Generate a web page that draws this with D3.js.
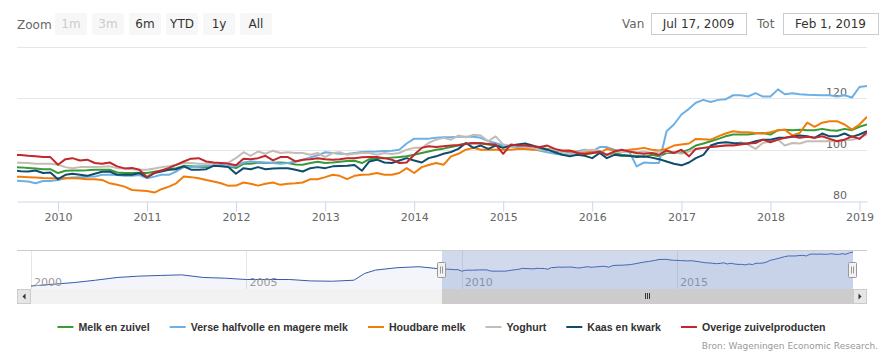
<!DOCTYPE html>
<html>
<head>
<meta charset="utf-8">
<script src="https://cdn.jsdelivr.net/npm/d3@7"></script>
<style>
  body { margin: 0; background: #fff; }
  svg { display: block; font-family: "DejaVu Sans", Verdana, sans-serif; }
</style>
</head>
<body>
<div id="grafiek"></div>
<script>
// maandcijfers, index, vanaf juli 2009 t/m februari 2019
const melkZuivel = [93.2, 93.1, 92.9, 92.7, 92.4, 92.4,
  90.9, 91.8, 91.9, 91.9, 92.0, 92.2, 92.2, 92.2, 91.1, 90.9, 90.9, 91.0,
  90.9, 91.4, 91.9, 92.4, 92.8, 93.7, 93.5, 93.3, 93.2, 93.7, 93.6, 93.5,
  92.8, 94.5, 94.5, 95.0, 94.8, 94.9, 95.0, 94.8, 94.2, 94.1, 94.8, 95.3,
  94.8, 95.0, 95.3, 95.6, 95.7, 94.8, 96.3, 96.7, 96.7, 96.9, 97.1, 97.4,
  98.0, 98.7, 99.3, 100.0, 100.4, 101.0, 101.6, 102.4, 102.5, 102.6, 102.0, 101.6,
  101.6, 101.3, 101.2, 101.0, 101.2, 100.8, 100.3, 99.7, 99.2, 99.0, 98.7, 98.3,
  98.6, 99.2, 98.0, 98.7, 98.0, 97.6, 97.6, 97.1, 98.0, 97.4, 98.7, 98.7,
  99.0, 100.0, 101.6, 102.4, 103.3, 104.2, 105.2, 105.9, 105.9, 105.9, 106.3, 106.5,
  105.9, 107.6, 107.8, 107.6, 107.8, 107.6, 107.6, 108.1, 107.6, 107.4, 108.1, 107.6,
  108.9, 109.8];
const verseMelk = [88.0, 87.8, 87.6, 86.9, 87.8, 87.8,
  88.2, 88.9, 89.2, 89.3, 89.4, 89.5, 90.2, 90.2, 90.1, 89.8, 89.8, 90.1,
  88.9, 89.5, 90.2, 90.2, 91.5, 93.2, 93.2, 93.5, 93.7, 93.7, 94.1, 93.5,
  93.5, 95.0, 95.4, 95.2, 95.0, 94.8, 94.5, 94.8, 95.4, 96.0, 97.0, 97.8,
  99.0, 98.7, 98.4, 98.3, 98.7, 99.1, 99.2, 99.3, 99.5, 99.6, 100.0, 102.4,
  104.3, 104.3, 104.3, 104.6, 104.8, 104.8, 105.0, 105.0, 105.0, 104.6, 103.3, 102.6,
  101.6, 101.3, 101.0, 100.7, 100.3, 99.6, 99.0, 98.4, 98.0, 98.7, 99.3, 100.0,
  99.3, 101.0, 101.0, 100.0, 99.3, 99.3, 93.5, 95.0, 94.8, 94.8, 107.2, 109.8,
  113.7, 115.9, 118.3, 119.4, 118.6, 119.4, 119.6, 121.2, 121.2, 120.7, 122.0, 120.7,
  120.7, 123.5, 121.6, 122.0, 121.6, 121.4, 121.3, 121.2, 121.2, 120.7, 121.2, 120.3,
  124.4, 124.8];
const houdbareMelk = [89.5, 89.4, 89.3, 89.2, 89.0, 88.9,
  88.9, 88.9, 88.9, 88.8, 88.5, 88.5, 88.2, 86.9, 86.3, 85.6, 84.3, 84.1,
  83.9, 83.3, 84.6, 85.6, 86.9, 89.5, 89.3, 88.9, 88.2, 87.6, 86.9, 85.9,
  86.0, 87.2, 86.7, 86.0, 86.7, 87.2, 86.3, 86.7, 86.9, 87.2, 88.5, 88.5,
  89.3, 90.2, 89.8, 88.5, 89.8, 90.2, 90.3, 90.9, 90.2, 90.2, 90.9, 92.8,
  90.9, 93.2, 94.0, 94.8, 94.1, 97.4, 98.4, 100.0, 100.7, 100.0, 100.0, 100.0,
  100.0, 100.0, 100.3, 100.3, 100.0, 100.0, 100.1, 100.0, 99.7, 99.5, 99.2, 99.0,
  99.0, 98.7, 100.3, 99.7, 99.3, 100.0, 100.3, 100.7, 100.0, 99.7, 100.3, 101.6,
  102.0, 102.4, 104.2, 104.1, 103.9, 105.2, 106.3, 107.2, 106.8, 106.8, 106.5, 106.3,
  106.8, 107.6, 107.8, 105.5, 106.5, 110.5, 108.9, 110.5, 111.1, 111.1, 109.8, 107.8,
  109.8, 112.8];
const yoghurt = [95.0, 94.9, 94.8, 94.5, 94.5, 94.5,
  94.1, 93.2, 92.8, 93.2, 93.2, 93.2, 93.3, 93.5, 92.8, 92.7, 92.4, 92.2,
  92.2, 92.7, 93.2, 93.5, 94.1, 94.8, 94.8, 94.5, 94.5, 94.5, 94.8, 95.0,
  96.7, 99.0, 97.6, 99.3, 98.4, 99.6, 98.7, 99.0, 98.7, 98.7, 98.0, 98.7,
  97.1, 98.7, 99.0, 98.0, 98.4, 98.7, 98.7, 98.0, 98.7, 98.3, 98.7, 100.0,
  100.7, 100.7, 102.6, 103.9, 104.6, 103.9, 105.5, 104.8, 105.8, 105.5, 103.3, 105.2,
  102.0, 101.6, 101.3, 101.0, 100.7, 100.0, 100.0, 100.0, 99.1, 98.0, 98.7, 99.7,
  100.0, 99.5, 98.0, 99.0, 99.3, 99.3, 99.0, 99.3, 98.7, 99.3, 99.0, 99.0,
  98.4, 99.3, 100.3, 100.7, 101.0, 101.3, 101.6, 102.0, 102.9, 102.0, 100.3, 102.6,
  103.3, 103.9, 101.6, 102.6, 102.4, 103.3, 103.3, 103.3, 103.3, 103.5, 103.9, 103.9,
  104.6, 105.9];
const kaasKwark = [91.9, 91.6, 91.5, 91.9, 90.9, 91.1,
  88.5, 90.2, 90.6, 90.2, 89.8, 90.6, 91.4, 91.5, 90.2, 90.2, 90.2, 90.9,
  89.2, 90.9, 91.5, 92.2, 92.4, 93.5, 92.2, 92.2, 92.4, 93.7, 93.5, 93.2,
  90.6, 92.8, 92.4, 93.2, 92.4, 92.7, 92.8, 92.8, 92.2, 91.5, 92.8, 93.2,
  92.8, 93.5, 93.6, 93.7, 94.0, 91.8, 95.4, 96.1, 95.0, 94.8, 95.8, 96.7,
  95.8, 95.0, 96.7, 97.4, 98.4, 99.1, 100.3, 102.6, 100.7, 101.6, 100.3, 101.6,
  100.7, 101.6, 102.0, 102.4, 101.6, 100.7, 100.0, 99.0, 98.0, 97.4, 98.0, 97.6,
  96.7, 98.7, 96.7, 98.0, 97.6, 97.6, 97.1, 97.4, 96.9, 96.3, 95.4, 94.5,
  93.9, 95.0, 96.7, 98.0, 101.6, 102.6, 102.9, 102.6, 102.4, 102.4, 103.3, 103.9,
  103.9, 104.6, 104.6, 105.0, 105.5, 105.2, 104.6, 106.3, 105.2, 105.2, 106.3, 105.0,
  105.9, 107.2];
const overige = [98.0, 97.9, 97.6, 97.4, 97.1, 97.1,
  94.1, 96.3, 96.7, 95.8, 96.1, 94.8, 94.5, 95.0, 93.5, 92.7, 92.9, 92.2,
  89.3, 91.1, 91.9, 92.9, 94.1, 95.4, 96.5, 96.7, 95.4, 95.0, 94.8, 94.5,
  93.9, 96.5, 96.3, 96.7, 97.6, 95.8, 97.1, 97.1, 95.4, 96.1, 96.3, 96.7,
  96.3, 96.1, 96.3, 96.7, 96.7, 97.0, 97.1, 97.1, 96.7, 96.1, 94.8, 95.0,
  98.0, 100.7, 101.3, 101.0, 101.3, 101.6, 101.8, 102.2, 102.6, 102.4, 102.2, 102.0,
  98.4, 102.0, 101.6, 101.6, 101.3, 101.0, 101.6, 100.3, 99.6, 99.7, 98.7, 98.3,
  98.7, 99.3, 98.0, 99.3, 100.0, 99.3, 98.7, 98.4, 98.7, 98.0, 99.7, 98.7,
  100.0, 97.4, 100.3, 100.7, 101.0, 101.3, 101.6, 101.6, 102.0, 102.4, 102.6, 103.9,
  102.9, 103.9, 104.6, 105.2, 104.6, 105.0, 104.6, 105.2, 104.2, 103.3, 103.9, 105.2,
  104.2, 106.8];

const reeksNamen = ["Melk en zuivel", "Verse halfvolle en magere melk", "Houdbare melk",
  "Yoghurt", "Kaas en kwark", "Overige zuivelproducten"];
const reeksKleuren = ["#3a9a35", "#6cb0e6", "#f07d0a", "#c4bdb6", "#0f4c6b", "#c1272d"];
const reeksen = [melkZuivel, verseMelk, houdbareMelk, yoghurt, kaasKwark, overige];

// navigator: oudere halfjaarcijfers van melk en zuivel (2000 - 2009)
const navOudDatums = ["2000-01", "2000-07", "2001-01", "2001-07", "2002-01", "2002-07",
  "2003-01", "2003-07", "2004-01", "2004-07", "2005-01", "2005-07", "2006-01", "2006-07",
  "2007-01", "2007-07", "2007-10", "2008-01", "2008-07", "2009-01"];
const navOudWaarden = [76.3, 78.0, 79.7, 82.0, 84.7, 86.0, 86.7, 87.3, 84.7, 84.0,
  82.7, 82.7, 82.7, 81.3, 81.0, 82.0, 88.7, 92.0, 94.3, 95.3];

const yTicks = [80, 100, 120, 140];
const yLabels = [80, 100, 120];
const xJaren = [2010, 2011, 2012, 2013, 2014, 2015, 2016, 2017, 2018, 2019];
const navJaren = [2000, 2005, 2010, 2015];
const zoomKnoppen = ["1m", "3m", "6m", "YTD", "1y", "All"];
const uitgeschakeld = ["1m", "3m"];
const vanTekst = "Jul 17, 2009", totTekst = "Feb 1, 2019";
const bron = "Bron: Wageningen Economic Research.";

const breedte = 883, hoogte = 359;
const links = 17, rechts = 867, boven = 47, onder = 201;
const vanDatum = new Date(2009, 6, 17), totDatum = new Date(2019, 1, 1);

const maanden = melkZuivel.map((_, i) => new Date(2009, 6 + i, 1));
const parse = d3.timeParse("%Y-%m");

const $svg = d3.select("#grafiek").append("svg")
  .attr("width", breedte)
  .attr("height", hoogte);

// ZOOM KNOPPEN
$svg.append("text")
  .attr("x", 17).attr("y", 25).attr("dy", "0.35em")
  .attr("fill", "#666").attr("font-size", 12)
  .text("Zoom");

zoomKnoppen.forEach((k, i) => {
  const g = $svg.append("g").attr("transform", `translate(${55 + i * 37}, 13)`);
  g.append("rect")
    .attr("width", 32).attr("height", 22).attr("rx", 2)
    .attr("fill", "#f7f7f7");
  g.append("text")
    .attr("x", 16).attr("y", 11).attr("dy", "0.35em")
    .attr("text-anchor", "middle")
    .attr("font-size", 12)
    .attr("fill", uitgeschakeld.includes(k) ? "#cccccc" : "#333")
    .text(k);
});

// DATUM VAKJES
const datumVak = (label, lx, bx, bw, tekst) => {
  $svg.append("text")
    .attr("x", lx).attr("y", 24).attr("dy", "0.35em")
    .attr("fill", "#666").attr("font-size", 12)
    .text(label);
  $svg.append("rect")
    .attr("x", bx + 0.5).attr("y", 13.5).attr("width", bw).attr("height", 21)
    .attr("fill", "#fff").attr("stroke", "#cccccc");
  $svg.append("text")
    .attr("x", bx + bw / 2).attr("y", 24).attr("dy", "0.35em")
    .attr("text-anchor", "middle")
    .attr("fill", "#333").attr("font-size", 12)
    .text(tekst);
};
datumVak("Van", 622, 651, 95, vanTekst);
datumVak("Tot", 757, 783, 95, totTekst);

// SCHALEN
const x = d3.scaleTime().domain([vanDatum, totDatum]).range([links, rechts]);
const y = d3.scaleLinear().domain([80, 140]).range([onder, boven]);

// rasterlijnen
$svg.append("g")
  .selectAll("line")
  .data(yTicks.filter(t => t !== 80))
  .join("line")
  .attr("x1", links).attr("x2", rechts)
  .attr("y1", d => Math.round(y(d)) + 0.5).attr("y2", d => Math.round(y(d)) + 0.5)
  .attr("stroke", "#e6e6e6");

// x as
const xAs = $svg.append("g")
  .attr("transform", `translate(0, ${onder + 0.5})`)
  .call(d3.axisBottom(x)
    .tickValues(xJaren.map(j => new Date(j, 0, 1)))
    .tickFormat(d3.timeFormat("%Y"))
    .tickSize(10)
    .tickSizeOuter(0)
    .tickPadding(2));
xAs.select(".domain").attr("stroke", "#ccd6eb");
xAs.selectAll(".tick line").attr("stroke", "#ccd6eb");
xAs.selectAll(".tick text").attr("fill", "#666").attr("font-size", 11)
  .attr("font-family", "DejaVu Sans, sans-serif");

// y as (labels binnen het plotvlak)
const yAs = $svg.append("g")
  .attr("transform", `translate(849, 0)`)
  .call(d3.axisLeft(y).tickValues(yLabels).tickSize(0).tickPadding(2));
yAs.select(".domain").remove();
yAs.selectAll(".tick text").attr("fill", "#666").attr("font-size", 11)
  .attr("dy", "-0.22em")
  .attr("font-family", "DejaVu Sans, sans-serif");

// LIJNEN
$svg.append("clipPath").attr("id", "plotClip")
  .append("rect").attr("x", links).attr("y", boven - 5)
  .attr("width", rechts - links).attr("height", onder - boven + 5);

const lijn = d3.line()
  .x((d, i) => x(maanden[i]))
  .y(d => y(d));

$svg.append("g")
  .attr("clip-path", "url(#plotClip)")
  .selectAll("path")
  .data(reeksen)
  .join("path")
  .attr("d", lijn)
  .attr("fill", "none")
  .attr("stroke", (d, i) => reeksKleuren[i])
  .attr("stroke-width", 2)
  .attr("stroke-linejoin", "round");

// NAVIGATOR
const navBoven = 250, navOnder = 289;
const navDatums = navOudDatums.map(parse).concat(maanden);
const navWaarden = navOudWaarden.concat(melkZuivel);
const navX = d3.scaleTime()
  .domain([new Date(2000, 0, 1), maanden[maanden.length - 1]])
  .range([31, 853]);
const navY = d3.scaleLinear()
  .domain(d3.extent(navWaarden))
  .range([286, 252]);

const nav = $svg.append("g");
nav.selectAll("line.raster")
  .data(navJaren)
  .join("line")
  .attr("class", "raster")
  .attr("x1", d => Math.round(navX(new Date(d, 0, 1))) + 0.5)
  .attr("x2", d => Math.round(navX(new Date(d, 0, 1))) + 0.5)
  .attr("y1", navBoven).attr("y2", navOnder)
  .attr("stroke", "#e6e6e6");

nav.append("path")
  .attr("d", d3.area()
    .x((d, i) => navX(navDatums[i]))
    .y0(navOnder)
    .y1(d => navY(d))(navWaarden))
  .attr("fill", "rgba(51,92,173,0.06)");
nav.append("path")
  .attr("d", d3.line()
    .x((d, i) => navX(navDatums[i]))
    .y(d => navY(d))(navWaarden))
  .attr("fill", "none")
  .attr("stroke", "#335cad")
  .attr("stroke-width", 1);

nav.selectAll("text")
  .data(navJaren)
  .join("text")
  .attr("x", d => navX(new Date(d, 0, 1)) + 3)
  .attr("y", 286)
  .attr("fill", "#999")
  .attr("font-size", 11)
  .text(d => d);

const hL = navX(vanDatum), hR = navX(totDatum);
nav.append("rect")
  .attr("x", hL).attr("y", navBoven)
  .attr("width", hR - hL).attr("height", navOnder - navBoven)
  .attr("fill", "rgba(102,133,194,0.3)");
nav.append("line")
  .attr("x1", links).attr("x2", rechts)
  .attr("y1", navBoven + 0.5).attr("y2", navBoven + 0.5)
  .attr("stroke", "#cccccc");

// handvatten
[hL, hR].forEach(hx => {
  const g = nav.append("g").attr("transform", `translate(${Math.round(hx) - 4.5}, 262.5)`);
  g.append("rect")
    .attr("width", 8).attr("height", 15).attr("rx", 1)
    .attr("fill", "#f2f2f2").attr("stroke", "#999");
  [3, 5].forEach(lx => g.append("line")
    .attr("x1", lx).attr("x2", lx).attr("y1", 4).attr("y2", 11)
    .attr("stroke", "#999"));
});

// SCROLLBAR
const sbY = 289, sbH = 15;
$svg.append("rect")
  .attr("x", links).attr("y", sbY).attr("width", rechts - links).attr("height", sbH)
  .attr("fill", "#f2f2f2");
$svg.append("rect")
  .attr("x", hL).attr("y", sbY).attr("width", hR - hL).attr("height", sbH)
  .attr("fill", "#cccccc");
[-2, 0, 2].forEach(o => $svg.append("line")
  .attr("x1", Math.round((hL + hR) / 2) + o + 0.5).attr("x2", Math.round((hL + hR) / 2) + o + 0.5)
  .attr("y1", sbY + 4).attr("y2", sbY + 10)
  .attr("stroke", "#333"));
[[links, -1], [rechts - 14, 1]].forEach(([bx, dir]) => {
  $svg.append("rect")
    .attr("x", bx + 0.5).attr("y", sbY + 0.5).attr("width", 13).attr("height", sbH - 1)
    .attr("fill", "#e6e6e6").attr("stroke", "#cccccc");
  const cx = bx + 7, cy = sbY + 7.5;
  $svg.append("path")
    .attr("d", `M${cx - 1.5 * dir},${cy - 3} L${cx + 1.5 * dir},${cy} L${cx - 1.5 * dir},${cy + 3} Z`)
    .attr("fill", "#333");
});

// LEGENDA
const legenda = $svg.append("g").attr("transform", "translate(0, 327)");
const items = reeksNamen.map((naam, i) => {
  const g = legenda.append("g");
  g.append("line")
    .attr("x1", 0).attr("x2", 16)
    .attr("stroke", reeksKleuren[i]).attr("stroke-width", 2);
  const t = g.append("text")
    .attr("x", 21).attr("dy", "0.35em")
    .attr("font-family", "Liberation Sans, Arial, sans-serif")
    .attr("font-size", 10.6).attr("font-weight", "bold")
    .attr("fill", "#333")
    .text(naam);
  return { g, w: 21 + t.node().getComputedTextLength() };
});
const tussen = 20;
const totaal = d3.sum(items, d => d.w) + tussen * (items.length - 1);
let lx = (breedte - totaal) / 2;
items.forEach(d => {
  d.g.attr("transform", `translate(${lx}, 0)`);
  lx += d.w + tussen;
});

// BRON
$svg.append("text")
  .attr("x", 878).attr("y", 349)
  .attr("text-anchor", "end")
  .attr("fill", "#999").attr("font-size", 9)
  .text(bron);
</script>
</body>
</html>
